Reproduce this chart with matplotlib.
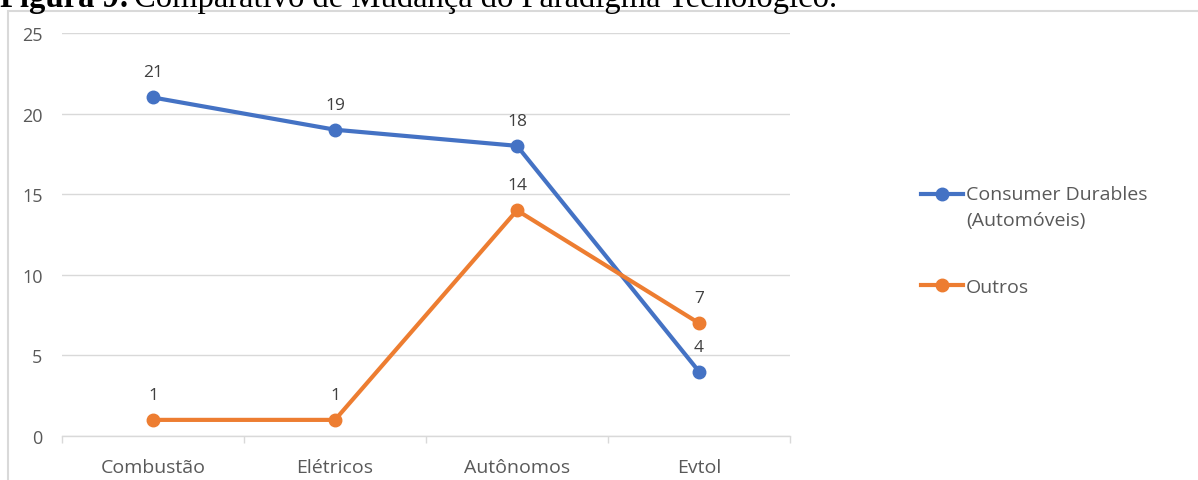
import numpy as np
import matplotlib.pyplot as plt
from matplotlib.patches import Rectangle
from matplotlib.legend_handler import HandlerLine2D

categorias = ['Combustão', 'Elétricos', 'Autônomos', 'Evtol']
consumer = [21, 19, 18, 4]
outros = [1, 1, 14, 7]
yticks = [0, 5, 10, 15, 20, 25]


class HandlerTopo(HandlerLine2D):
    # alinha o marcador com a primeira linha de um rótulo com duas linhas
    def __init__(self, dy, **kw):
        super().__init__(**kw)
        self.dy = dy

    def create_artists(self, *args, **kw):
        arts = super().create_artists(*args, **kw)
        for a in arts:
            a.set_ydata(np.asarray(a.get_ydata()) + self.dy)
        return arts


fig = plt.figure(figsize=(11.98, 4.81), dpi=100)

# moldura do gráfico (recortada como no documento)
fig.patches.append(Rectangle((8 / 1198, -0.1), 1.1, 1.1 - 12 / 481,
                             transform=fig.transFigure, fill=False,
                             edgecolor='#d9d9d9', lw=1.5))

# título cortado no topo, como no original
t1 = fig.text(0.0, 1 - 7 / 481, 'Figura 9:', family='Liberation Serif',
              weight='bold', fontsize=23.5, va='baseline', ha='left')
fig.canvas.draw()
bb = t1.get_window_extent()
fig.text(bb.x1 / 1198 + 0.004, 1 - 7 / 481,
         'Comparativo de Mudança do Paradigma Tecnológico.',
         family='Liberation Serif', fontsize=23.5, va='baseline', ha='left')

ax = fig.add_axes([62 / 1198, 44 / 481, 728 / 1198, 403 / 481])
x = range(len(categorias))
l1, = ax.plot(x, consumer, color='#4472C4', lw=3, marker='o', ms=9,
              label='Consumer Durables\n(Automóveis)', zorder=3)
l2, = ax.plot(x, outros, color='#ED7D31', lw=3, marker='o', ms=9,
              label='Outros', zorder=3)

for serie in (consumer, outros):
    for i, v in enumerate(serie):
        ax.annotate(str(v), (i, v), xytext=(0, 18), textcoords='offset points',
                    ha='center', va='center', color='#404040',
                    family='Open Sans', fontsize=12.5)

ax.set_xlim(-0.5, 3.5)
ax.set_ylim(0, 25)
ax.set_yticks(yticks)
ax.grid(axis='y', color='#d9d9d9', lw=1)
ax.set_axisbelow(True)
for s in ('top', 'right', 'left'):
    ax.spines[s].set_visible(False)
ax.spines['bottom'].set_color('#d9d9d9')
ax.spines['bottom'].set_linewidth(1)

ax.set_xticks(list(x))
ax.set_xticklabels(categorias)
ax.set_xticks([-0.5, 0.5, 1.5, 2.5, 3.5], minor=True)
ax.tick_params(axis='x', which='major', length=0, pad=16,
               labelsize=14, labelcolor='#595959')
ax.tick_params(axis='x', which='minor', length=5, color='#d9d9d9', width=1)
ax.tick_params(axis='y', length=0, pad=14, labelsize=13, labelcolor='#595959')
for lab in ax.get_xticklabels() + ax.get_yticklabels():
    lab.set_family('Open Sans')

leg = ax.legend(loc='upper left', bbox_to_anchor=(903 / 1198, 1 - 169 / 481),
                bbox_transform=fig.transFigure, frameon=False,
                handlelength=2.2, handletextpad=0.15, labelspacing=2.5,
                handler_map={l1: HandlerTopo(9.5)},
                prop={'family': 'Open Sans', 'size': 14})
for txt in leg.get_texts():
    txt.set_color('#595959')
    txt.set_linespacing(1.55)

fig.savefig('out.png', dpi=100)
